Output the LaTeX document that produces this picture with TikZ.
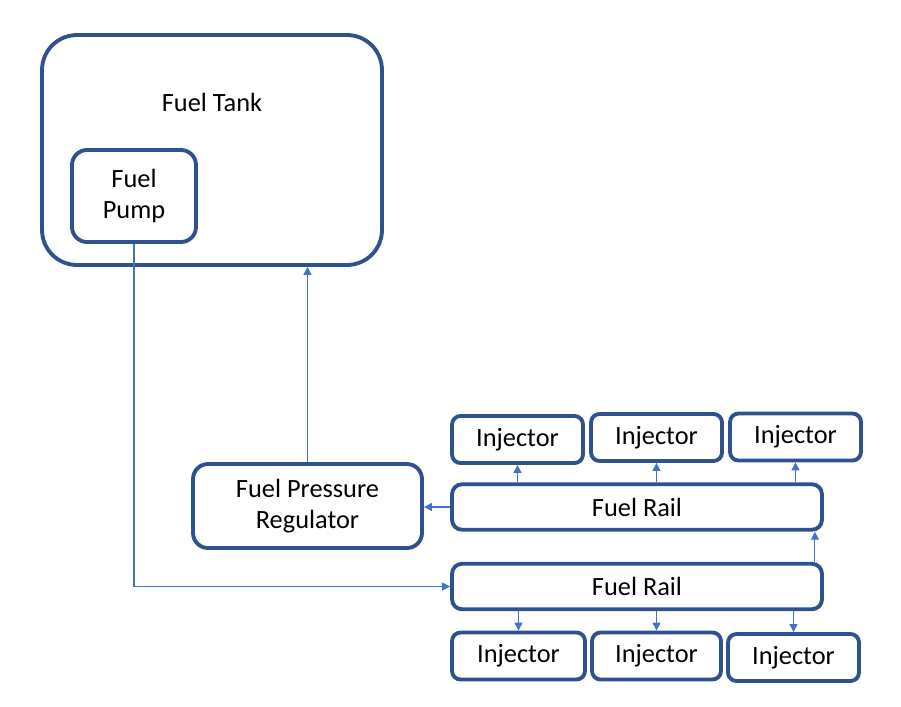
\documentclass[tikz,border=0pt]{standalone}
\usepackage{fontspec}
\setmainfont{Carlito}
\usepackage{xcolor}
\usetikzlibrary{arrows.meta, positioning, calc}
\definecolor{boxblue}{HTML}{2F528F}
\definecolor{lineblue}{HTML}{4472C4}
\begin{document}
\begin{tikzpicture}[
        x=0.02cm, y=-0.02cm,
        box/.style={rectangle, draw=boxblue, line width=2.2pt, fill=white,
            rounded corners=0.3cm, align=center, inner sep=0pt},
        inj/.style={box, rounded corners=0.17cm, minimum width=2.62cm, minimum height=0.94cm},
        rail/.style={box, rounded corners=0.2cm, minimum width=7.4cm, minimum height=0.91cm},
        flow/.style={draw=lineblue, line width=0.6pt, -{Triangle[length=4.5pt, width=4.5pt]}}
        ]
        \useasboundingbox (0,0) rectangle (901,706);
        \fontsize{15}{18}\selectfont

        %% Tank and pump
        \node[box, rounded corners=0.7cm, minimum width=6.8cm, minimum height=4.6cm] (tank) at (212,150) {};
        \node (tanktext) at (212,102) {Fuel Tank};
        \node[box, minimum width=2.48cm, minimum height=1.84cm] (pump) at (134,196) {Fuel\\Pump};

        %% Regulator
        \node[box, minimum width=4.58cm, minimum height=1.68cm] (reg) at (307.5,506) {Fuel Pressure\\Regulator};

        %% Fuel rails
        \node[rail] (uprail)  at (637,507)   {Fuel Rail};
        \node[rail] (lowrail) at (637,586.5) {Fuel Rail};

        %% Injectors (top row)
        \node[inj] (inj1) at (517.5,439.5) {Injector};
        \node[inj] (inj2) at (656.5,437.5) {Injector};
        \node[inj] (inj3) at (795.5,437)   {Injector};

        %% Injectors (bottom row)
        \node[inj, minimum width=2.66cm] (inj4) at (518.5,656)   {Injector};
        \node[inj, minimum width=2.58cm] (inj5) at (656.5,656)   {Injector};
        \node[inj] (inj6) at (793.5,657.5) {Injector};

        %% Flow lines
        \draw[flow] (pump.south) |- (lowrail.west);
        \draw[flow] (reg.north) -- (reg.north |- tank.south);
        \draw[flow] (uprail.west) -- (reg.east |- uprail.west);
        \coordinate (riser) at ($(lowrail.north east)+(-9,0)$);
        \draw[flow] (riser) -- (riser |- uprail.south);

        \foreach \i in {inj1,inj2,inj3}
            \draw[flow] (\i.south |- uprail.north) -- (\i.south);
        \foreach \i in {inj4,inj5,inj6}
            \draw[flow] (\i.north |- lowrail.south) -- (\i.north);

\end{tikzpicture}
\end{document}
